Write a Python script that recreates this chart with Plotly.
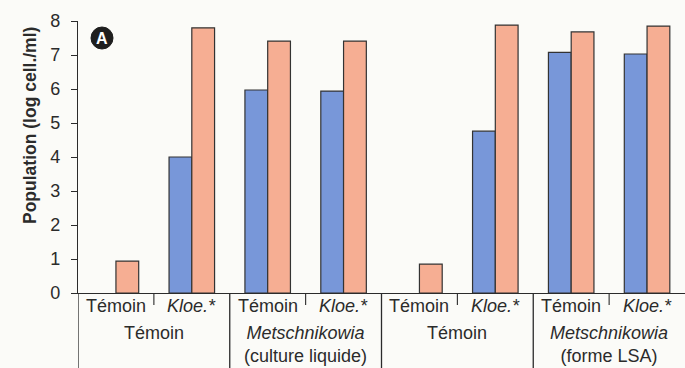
import plotly.graph_objects as go

# Eight treatment slots: (inoculum, group)
treatments = ["Témoin", "Kloe.*", "Témoin", "Kloe.*", "Témoin", "Kloe.*", "Témoin", "Kloe.*"]
groups = ["Témoin", "<i>Metschnikowia</i><br>(culture liquide)",
          "Témoin", "<i>Metschnikowia</i><br>(forme LSA)"]

# Population, log cell./ml
pop_blue = [None, 4.0, 5.97, 5.94, None, 4.76, 7.08, 7.03]
pop_orange = [0.94, 7.8, 7.41, 7.41, 0.85, 7.88, 7.68, 7.85]

y_ticks = [0, 1, 2, 3, 4, 5, 6, 7, 8]

BLUE = "#7897d9"
ORANGE = "#f6ae93"
INK = "#2b2b2b"
FONT = "Liberation Sans, Arial, sans-serif"

x = list(range(len(treatments)))

fig = go.Figure()
fig.add_trace(go.Bar(x=x, y=pop_blue, marker=dict(color=BLUE, line=dict(color="#333333", width=1.2)),
                     showlegend=False))
fig.add_trace(go.Bar(x=x, y=pop_orange, marker=dict(color=ORANGE, line=dict(color="#333333", width=1.2)),
                     showlegend=False))

# Plot area spans pixels 78..685 horizontally, 21..293 vertically
H_PLOT = 272.0
W_PLOT = 607.0
def py(pix):
    return (293 - pix) / H_PLOT
def px(pix):
    return (pix - 78) / W_PLOT

annotations = []
shapes = []

# Treatment labels under each slot
for i, t in enumerate(treatments):
    txt = "<i>" + t + "</i>" if t.startswith("Kloe") else t
    annotations.append(dict(x=i, y=py(306), xref="x", yref="paper", text=txt, showarrow=False,
                            font=dict(family=FONT, size=18, color=INK), yanchor="middle"))

# Group labels, centred between two slots
for g, label in enumerate(groups):
    annotations.append(dict(x=2 * g + 0.5, y=py(321), xref="x", yref="paper", text=label,
                            showarrow=False, yanchor="top",
                            font=dict(family=FONT, size=18, color=INK)))

# Group separators down to the bottom edge
for b in [-0.5, 1.5, 3.5, 5.5]:
    shapes.append(dict(type="line", xref="x", yref="paper", x0=b, x1=b, y0=0, y1=py(368),
                       line=dict(color=INK, width=1.3)))
# Short ticks between the two slots of a group
for b in [0.5, 2.5, 4.5, 6.5]:
    shapes.append(dict(type="line", xref="x", yref="paper", x0=b, x1=b, y0=0, y1=py(305),
                       line=dict(color=INK, width=1.1)))

# Panel badge
shapes.append(dict(type="circle", xref="paper", yref="paper",
                   x0=px(91), x1=px(113), y0=py(49), y1=py(27),
                   fillcolor="#1e1e1e", line=dict(color="#1e1e1e", width=1)))
annotations.append(dict(x=px(102), y=py(38), xref="paper", yref="paper", text="<b>A</b>",
                        showarrow=False, font=dict(family=FONT, size=16, color="white"),
                        xanchor="center", yanchor="middle"))

# Y-axis title
annotations.append(dict(x=px(18), y=py(126), xref="paper", yref="paper",
                        text="<b>Population (log cell./ml)</b>", showarrow=False, textangle=-90,
                        font=dict(family=FONT, size=17.5, color=INK)))

fig.update_layout(
    width=685, height=368,
    margin=dict(l=78, r=0, t=21, b=75),
    paper_bgcolor="#fbfbf8", plot_bgcolor="#fbfbf8",
    barmode="group", bargap=0.4, bargroupgap=0.0,
    xaxis=dict(range=[-0.5, 7.5], showticklabels=False, ticks="", showgrid=False, zeroline=False,
               showline=True, linecolor=INK, linewidth=1.3),
    yaxis=dict(range=[0, 8], tickvals=y_ticks, ticks="outside", ticklen=6, tickwidth=1.3,
               tickcolor=INK, showgrid=False, zeroline=False, showline=True, linecolor=INK,
               linewidth=1.3, ticklabelstandoff=7,
               tickfont=dict(family=FONT, size=18, color=INK)),
    annotations=annotations, shapes=shapes,
)

fig.write_html("out.html")
